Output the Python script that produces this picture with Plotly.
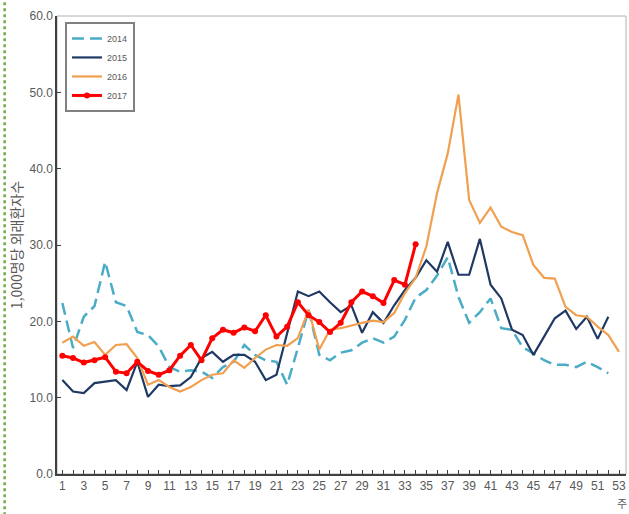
"""Weekly outpatient rate per 1,000, 2014-2017 seasons."""
import plotly.graph_objects as go

weeks = list(range(1, 54))
tick_labels = [str(w) if w % 2 == 1 else "" for w in weeks]

rate_2014 = [22.4, 16.5, 20.6, 22.0, 27.8, 22.5, 22.0, 18.6, 18.2, 16.7,
             14.0, 13.4, 13.6, 13.4, 12.6, 14.0, 14.7, 16.9, 15.6, 14.9,
             14.7, 11.7, 16.5, 21.5, 15.6, 14.9, 15.9, 16.2, 17.2, 17.8,
             17.2, 18.0, 20.2, 23.1, 24.1, 26.0, 28.4, 23.2, 19.8, 21.2,
             23.0, 19.1, 18.9, 16.6, 15.8, 14.9, 14.3, 14.3, 14.0, 14.7,
             14.0, 13.2]
rate_2015 = [12.3, 10.8, 10.6, 11.9, 12.1, 12.3, 11.0, 14.7, 10.1, 11.7,
             11.5, 11.6, 12.7, 15.2, 16.0, 14.7, 15.6, 15.6, 14.7, 12.3,
             13.0, 18.4, 23.9, 23.3, 23.9, 22.5, 21.2, 22.1, 18.5, 21.2,
             19.8, 22.1, 24.1, 25.7, 28.0, 26.5, 30.4, 26.1, 26.1, 30.8,
             24.8, 23.0, 18.9, 18.2, 15.6, 18.0, 20.4, 21.4, 19.0, 20.6,
             17.7, 20.6]
rate_2016 = [17.2, 18.0, 16.8, 17.3, 15.6, 16.9, 17.0, 15.2, 11.7, 12.3,
             11.4, 10.8, 11.4, 12.3, 13.0, 13.2, 14.9, 13.9, 15.2, 16.3,
             16.9, 16.8, 17.8, 21.5, 16.3, 18.9, 19.1, 19.5, 19.8, 20.1,
             19.9, 21.1, 23.7, 25.7, 29.8, 36.8, 42.0, 49.7, 35.9, 32.9,
             34.9, 32.4, 31.7, 31.3, 27.4, 25.7, 25.6, 21.9, 20.8, 20.6,
             19.3, 18.2, 16.0]
rate_2017 = [15.5, 15.2, 14.6, 14.9, 15.3, 13.4, 13.2, 14.7, 13.5, 13.0,
             13.6, 15.5, 16.9, 14.9, 17.8, 18.9, 18.5, 19.2, 18.7, 20.8,
             18.0, 19.3, 22.5, 20.8, 19.9, 18.6, 19.8, 22.5, 23.9, 23.3,
             22.4, 25.4, 24.8, 30.1]

label_font = "Liberation Sans Narrow, Arial Narrow, Liberation Sans, sans-serif"
axis_grey = "#595959"

fig = go.Figure()

fig.add_trace(go.Scatter(
    x=weeks[:len(rate_2014)], y=rate_2014, name="2014", mode="lines",
    line=dict(color="#4bacc6", width=2.5, dash="12px,6px"),
))
fig.add_trace(go.Scatter(
    x=weeks[:len(rate_2015)], y=rate_2015, name="2015", mode="lines",
    line=dict(color="#1f3864", width=2.2),
))
fig.add_trace(go.Scatter(
    x=weeks[:len(rate_2016)], y=rate_2016, name="2016", mode="lines",
    line=dict(color="#f0a050", width=2.2),
))
fig.add_trace(go.Scatter(
    x=weeks[:len(rate_2017)], y=rate_2017, name="2017", mode="lines+markers",
    line=dict(color="#ff0000", width=3),
    marker=dict(color="#ff0000", size=6, symbol="circle"),
))

fig.update_layout(
    width=629,
    height=514,
    paper_bgcolor="white",
    plot_bgcolor="white",
    margin=dict(l=57, r=3, t=16, b=40, autoexpand=False),
    font=dict(family=label_font, size=12, color=axis_grey),
    showlegend=True,
    legend=dict(
        x=0.014, y=0.987, xanchor="left", yanchor="top",
        bgcolor="white", bordercolor="#808080", borderwidth=2,
        font=dict(family=label_font, size=9, color=axis_grey),
        tracegroupgap=0, itemwidth=30,
    ),
    shapes=[
        # light frame round the plot area
        dict(type="rect", xref="paper", yref="paper", x0=0, x1=1, y0=0, y1=1,
             line=dict(color="#b0b0b0", width=1), layer="below"),
        # dotted green border at the left edge of the page
        dict(type="line", xref="paper", yref="paper", x0=-0.092, x1=-0.092,
             y0=-0.09, y1=1.035, line=dict(color="#70ad47", width=2.5, dash="dot")),
    ],
    annotations=[
        dict(text="주", xref="paper", yref="paper", x=0.993, y=-0.085,
             xanchor="center", yanchor="bottom", showarrow=False,
             font=dict(family="Noto Sans CJK KR", size=11, color=axis_grey)),
    ],
)

fig.update_xaxes(
    range=[0.5, 53.65],
    tickvals=weeks,
    ticktext=tick_labels,
    ticks="inside", ticklen=4, tickcolor="#404040",
    showline=True, linecolor="#404040", linewidth=1.5,
    showgrid=False, zeroline=False, automargin=False,
    tickfont=dict(family=label_font, size=12, color=axis_grey),
)
fig.update_yaxes(
    range=[0, 60], dtick=10, tickformat=".1f",
    ticks="inside", ticklen=4, tickcolor="#404040",
    showline=True, linecolor="#404040", linewidth=1.5,
    showgrid=False, zeroline=False, automargin=False,
    tickfont=dict(family=label_font, size=12, color=axis_grey),
    title=dict(text="1,000명당 외래환자수", standoff=4,
               font=dict(family="Noto Sans CJK KR", size=14, color=axis_grey)),
)

# the page's default body margin would shift the figure by 8px
fig.write_html(
    "out.html",
    config={"displayModeBar": False},
    post_script="document.body.style.margin = '0';",
)
